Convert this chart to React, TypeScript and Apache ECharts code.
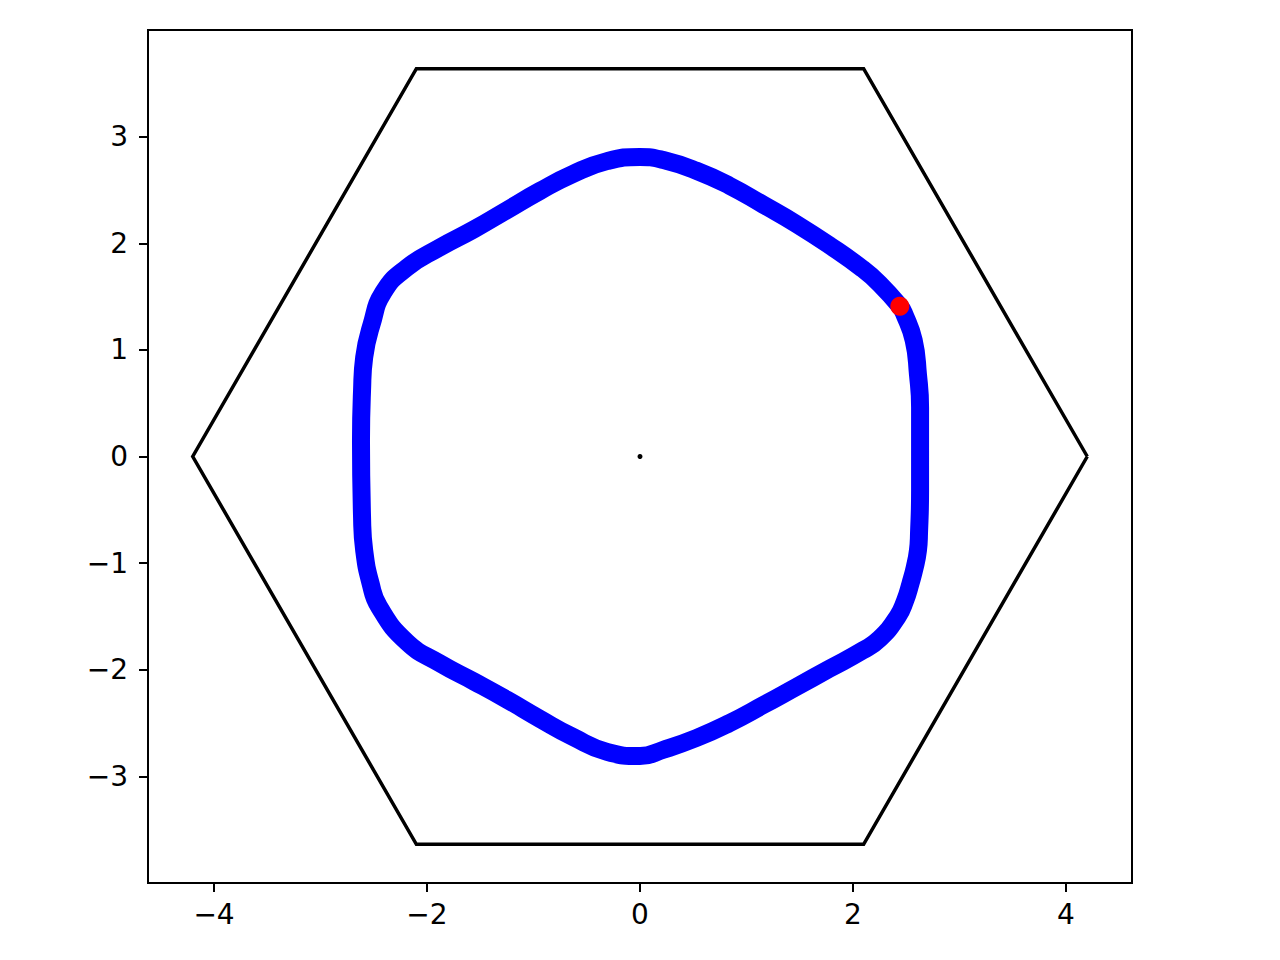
import React, { useEffect, useRef } from "react";
import * as echarts from "echarts";

const curveX = [2.63, 2.63, 2.61, 2.57, 2.48, 2.44, 2.25, 2.09, 1.78, 1.47, 1.16, 0.84, 0.53, 0.22, 0.0, -0.31, -0.63, -0.94, -1.25, -1.56, -1.88, -2.19, -2.41, -2.52, -2.59, -2.61, -2.62, -2.61, -2.59, -2.53, -2.45, -2.19, -1.88, -1.56, -1.25, -0.94, -0.63, -0.31, 0.0, 0.22, 0.53, 0.84, 1.16, 1.47, 1.78, 2.09, 2.25, 2.42, 2.49, 2.54, 2.58, 2.61, 2.62, 2.63, 2.63];
const curveY = [0.0, 0.46, 0.77, 1.09, 1.34, 1.41, 1.62, 1.76, 1.98, 2.18, 2.36, 2.54, 2.68, 2.78, 2.81, 2.77, 2.65, 2.49, 2.31, 2.13, 1.96, 1.77, 1.54, 1.24, 0.93, 0.62, 0.15, -0.57, -0.88, -1.19, -1.41, -1.74, -1.94, -2.11, -2.28, -2.46, -2.63, -2.77, -2.81, -2.75, -2.64, -2.5, -2.33, -2.16, -1.99, -1.82, -1.71, -1.5, -1.35, -1.19, -1.04, -0.88, -0.72, -0.32, 0.0];

const hexX = [4.2, 2.1, -2.1, -4.2, -2.1, 2.1, 4.2];
const hexY = [0, 3.637, 3.637, 0, -3.637, -3.637, 0];

const ball = [2.44, 1.41];
const center = [0, 0];

const xTicks = [-4, -2, 0, 2, 4];
const yTicks = [-3, -2, -1, 0, 1, 2, 3];

const fmt = (v: number) => (v < 0 ? "\u2212" + Math.abs(v) : String(v));

export default function App() {
  const ref = useRef<HTMLDivElement>(null);
  useEffect(() => {
    if (!ref.current) return;
    const chart = echarts.init(ref.current, undefined, { renderer: "svg" });
    const labelStyle = {
      color: "#000",
      fontFamily: "DejaVu Sans",
      fontSize: 28,
    };
    chart.setOption({
      animation: false,
      backgroundColor: "#fff",
      grid: {
        left: 148,
        top: 30,
        width: 984,
        height: 853,
        show: true,
        borderColor: "#000",
        borderWidth: 2,
        backgroundColor: "transparent",
      },
      xAxis: {
        type: "value",
        min: -4.62,
        max: 4.62,
        splitLine: { show: false },
        axisLine: { show: true, onZero: false, lineStyle: { color: "#000", width: 2 } },
        axisTick: {
          show: true,
          length: 9,
          customValues: xTicks,
          lineStyle: { color: "#000", width: 2 },
        },
        axisLabel: {
          ...labelStyle,
          margin: 17,
          customValues: xTicks,
          formatter: (v: number) => fmt(v),
        },
      },
      yAxis: {
        type: "value",
        min: -4,
        max: 4,
        splitLine: { show: false },
        axisLine: { show: true, onZero: false, lineStyle: { color: "#000", width: 2 } },
        axisTick: {
          show: true,
          length: 9,
          customValues: yTicks,
          lineStyle: { color: "#000", width: 2 },
        },
        axisLabel: {
          ...labelStyle,
          margin: 20,
          customValues: yTicks,
          formatter: (v: number) => fmt(v),
        },
      },
      series: [
        {
          type: "line",
          data: hexX.map((x, i) => [x, hexY[i]]),
          showSymbol: false,
          symbol: "none",
          lineStyle: { color: "#000", width: 3.5, join: "miter" },
          z: 2,
        },
        {
          type: "line",
          data: curveX.map((x, i) => [x, curveY[i]]),
          showSymbol: false,
          symbol: "none",
          smooth: 0.5,
          lineStyle: { color: "#0000ff", width: 18, cap: "round", join: "round" },
          z: 3,
        },
        {
          type: "scatter",
          data: [ball],
          symbol: "circle",
          symbolSize: 19,
          itemStyle: { color: "#ff0000", opacity: 1 },
          z: 4,
        },
        {
          type: "scatter",
          data: [center],
          symbol: "circle",
          symbolSize: 5,
          itemStyle: { color: "#000", opacity: 1 },
          z: 4,
        },
      ],
    });
    return () => chart.dispose();
  }, []);
  return (
    <div
      ref={ref}
      style={{ position: "fixed", left: 0, top: 0, width: 1280, height: 960, background: "#fff" }}
    />
  );
}
